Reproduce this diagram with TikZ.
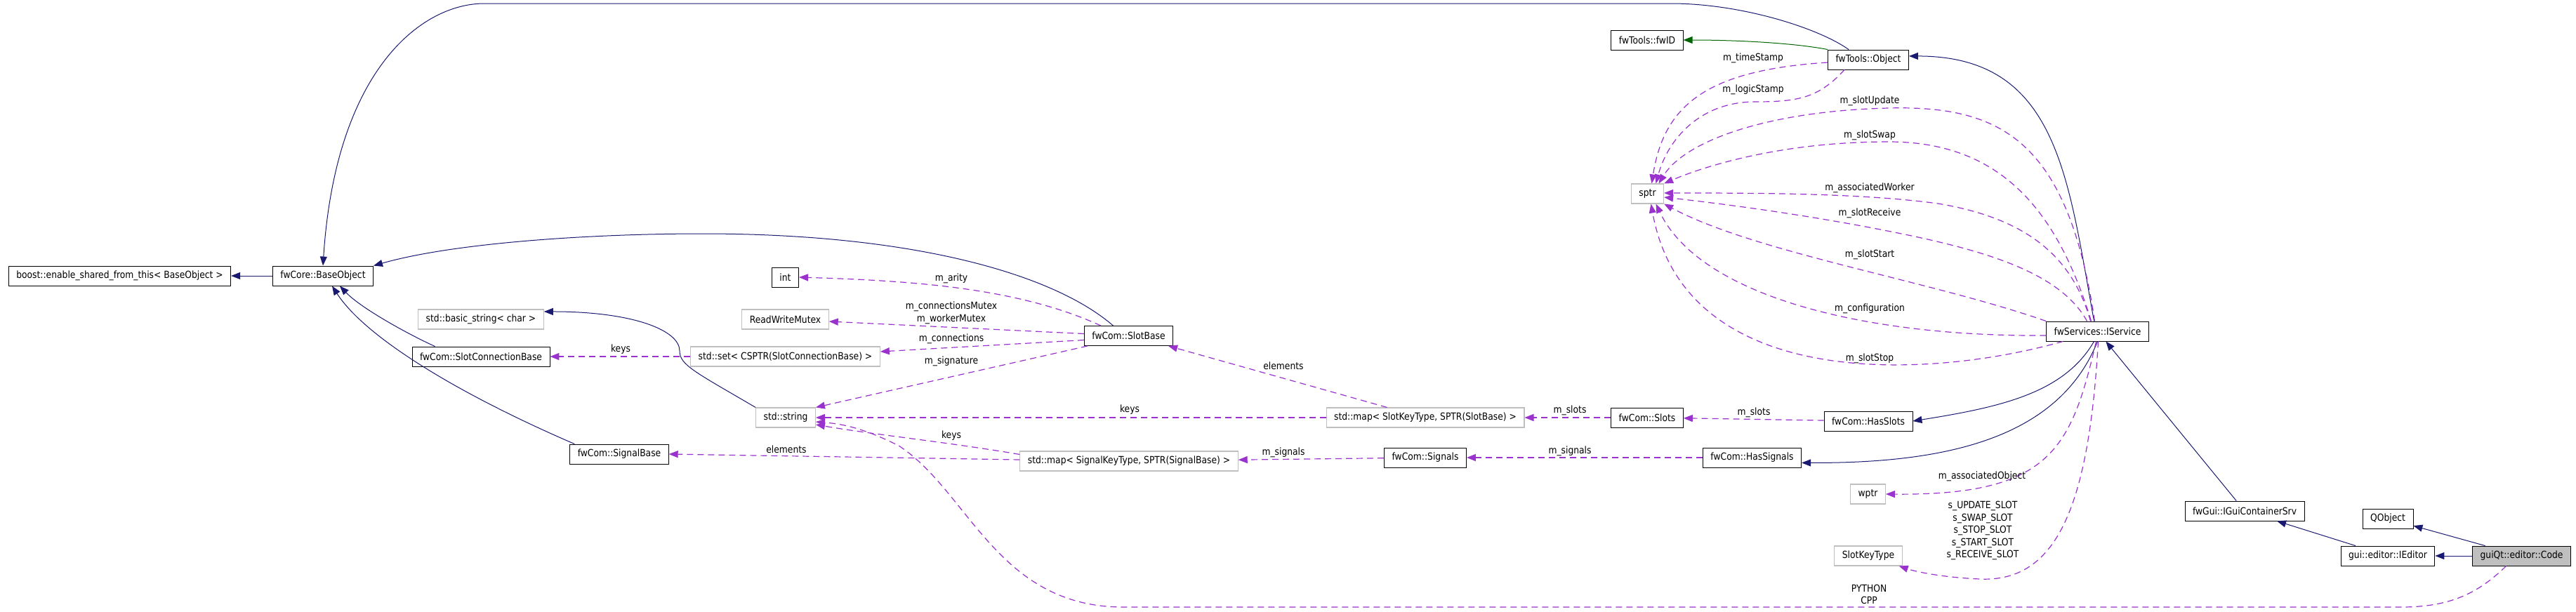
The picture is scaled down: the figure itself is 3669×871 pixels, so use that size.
\documentclass[tikz,border=0pt]{standalone}
\usepackage{fontspec}
\setmainfont{DejaVu Sans}[FakeStretch=0.88]
\usepackage{xcolor}
\definecolor{navyedge}{HTML}{191970}
\definecolor{useedge}{HTML}{9A32CD}
\definecolor{greenedge}{HTML}{006400}
\definecolor{grayline}{HTML}{BFBFBF}
\usetikzlibrary{arrows.meta}

\begin{document}
\begin{tikzpicture}[x=1pt, y=-1pt,
    font=\fontsize{14}{17.5}\selectfont,
    cls/.style={draw=black, line width=0.9pt, fill=white, minimum height=28pt, inner xsep=11pt, inner ysep=0pt},
    ext/.style={cls, draw=grayline, line width=1.1pt},
    inh/.style={draw=navyedge, line width=1pt, -{Triangle[length=13pt,width=10pt]}},
    grn/.style={inh, draw=greenedge},
    use/.style={draw=useedge, line width=1.2pt, dash pattern=on 9pt off 6pt, -{Triangle[length=13pt,width=10pt]}},
    lbl/.style={inner sep=0pt, align=center}
]
  \useasboundingbox (0,0) rectangle (3669,871);

  % Klassen links
  \node[cls] (boost) at (170.5,393) {boost::enable\_shared\_from\_this< BaseObject >};
  \node[cls] (BaseObject) at (460,393) {fwCore::BaseObject};
  \node[ext] (basicstr) at (685,455) {std::basic\_string< char >};
  \node[cls] (slotconn) at (685,508) {fwCom::SlotConnectionBase};
  \node[cls] (SignalBase) at (882,647) {fwCom::SignalBase};

  % Slots und Signale
  \node[cls] (int) at (1118.5,395) {int};
  \node[ext] (rwmutex) at (1118.5,455) {ReadWriteMutex};
  \node[ext] (stdset) at (1118.5,508) {std::set< CSPTR(SlotConnectionBase) >};
  \node[ext] (stdstr) at (1119,595) {std::string};
  \node[cls] (SlotBase) at (1607.5,478.5) {fwCom::SlotBase};
  \node[ext] (mapsig) at (1608,657) {std::map< SignalKeyType, SPTR(SignalBase) >};
  \node[ext] (mapslot) at (2030,595) {std::map< SlotKeyType, SPTR(SlotBase) >};
  \node[cls] (Signals) at (2030,652) {fwCom::Signals};
  \node[cls] (Slots) at (2346,595) {fwCom::Slots};
  \node[cls] (HasSlots) at (2661,600) {fwCom::HasSlots};
  \node[cls] (HasSignals) at (2495.5,652) {fwCom::HasSignals};

  % Objekt und Service
  \node[cls] (fwID) at (2346,57) {fwTools::fwID};
  \node[cls] (Object) at (2661,85) {fwTools::Object};
  \node[ext] (sptr) at (2346.5,276) {sptr};
  \node[cls] (IService) at (2987.5,472) {fwServices::IService};
  \node[ext] (wptr) at (2660.5,704) {wptr};
  \node[ext] (slotkey) at (2661,792) {SlotKeyType};

  % Editor rechts
  \node[cls] (guicont) at (3197,728) {fwGui::IGuiContainerSrv};
  \node[cls] (QObject) at (3401,739) {QObject};
  \node[cls] (IEditor) at (3401,792) {gui::editor::IEditor};
  \node[cls, fill=grayline] (Code) at (3591.5,792) {guiQt::editor::Code};

  % Vererbung
  \draw[inh] (BaseObject) -- (boost);
  \draw[inh] ([xshift=30pt]Object.north west) .. controls (2590,40) and (2480,5) .. (2380,5) -- (690,5) .. controls (600,5) and (478,100) .. (BaseObject.north);
  \draw[inh] ([xshift=-22pt]SlotBase.north) .. controls (1500,390) and (1300,333) .. (1000,333) .. controls (850,333) and (650,345) .. (BaseObject.north east);
  \draw[inh] ([xshift=33pt]slotconn.north west) .. controls (585,478) and (515,440) .. ([xshift=24pt]BaseObject.south);
  \draw[inh] ([xshift=7pt]SignalBase.north west) .. controls (650,560) and (520,480) .. ([xshift=13pt]BaseObject.south);
  \draw[inh] (stdstr.north west) .. controls (990,530) and (968,520) .. (968,500) .. controls (968,470) and (900,444) .. (basicstr.7);
  \draw[grn] (Object.north west) .. controls (2560,62) and (2480,57) .. (fwID.east);
  \draw[inh] ([xshift=-5pt]IService.north) .. controls (2945,250) and (2930,80) .. (Object.5);
  \draw[inh] ([xshift=-5pt]IService.south) .. controls (2940,560) and (2850,580) .. (HasSlots.east);
  \draw[inh] (IService.south) .. controls (2930,630) and (2760,660) .. (HasSignals.-6);
  \draw[inh] (guicont) -- (IService);
  \draw[inh] (IEditor) -- (guicont);
  \draw[inh] (Code) -- (IEditor);
  \draw[inh] (Code) -- (QObject);

  % Attribute
  \draw[use] ([xshift=24pt]SlotBase.north west) .. controls (1450,410) and (1300,400) .. (int.east);
  \draw[use] ([yshift=3pt]SlotBase.west) -- ([yshift=-3pt]rwmutex.east);
  \draw[use] ([yshift=-6pt]SlotBase.west) -- ([yshift=7pt]stdset.east);
  \draw[use] ([xshift=5pt]SlotBase.south west) -- (stdstr.north east);
  \draw[use] (stdset) -- (slotconn);
  \draw[use] ([xshift=87pt]mapslot.north west) -- ([xshift=-7pt]SlotBase.south east);
  \draw[use] (mapslot) -- (stdstr);
  \draw[use] ([yshift=-5pt]mapsig.north west) .. controls (1350,630) and (1250,620) .. ([yshift=-10pt]stdstr.east);
  \draw[use] ([yshift=2pt]mapsig.west) -- (SignalBase.east);
  \draw[use] (Slots) -- (mapslot);
  \draw[use] (HasSlots) -- (Slots);
  \draw[use] (Signals) -- (mapsig);
  \draw[use] (HasSignals) -- (Signals);
  \draw[use] ([yshift=-4pt]Object.west) .. controls (2430,100) and (2370,150) .. ([xshift=6pt]sptr.north);
  \draw[use] ([xshift=24pt]Object.south west) .. controls (2590,140) and (2560,145) .. (2500,145) .. controls (2420,145) and (2375,200) .. ([xshift=12pt]sptr.north);
  \draw[use] ([xshift=-4pt]IService.north) .. controls (2945,200) and (2850,150) .. (2690,154) .. controls (2520,158) and (2400,200) .. ([xshift=16pt]sptr.north);
  \draw[use] ([xshift=-9pt]IService.north) .. controls (2930,300) and (2850,202) .. (2690,202) .. controls (2530,202) and (2420,240) .. (sptr.north east);
  \draw[use] ([xshift=-10pt]IService.north) .. controls (2950,360) and (2880,310) .. (2760,290) .. controls (2650,275) and (2500,275) .. ([yshift=1pt]sptr.east);
  \draw[use] ([xshift=-15pt]IService.north) .. controls (2930,380) and (2800,350) .. (2657,323) .. controls (2550,303) and (2450,290) .. ([yshift=-5pt]sptr.east);
  \draw[use] (IService.north west) .. controls (2750,400) and (2500,360) .. (sptr.south east);
  \draw[use] ([yshift=-6pt]IService.west) .. controls (2650,480) and (2420,420) .. ([xshift=12pt]sptr.south);
  \draw[use] ([xshift=24pt]IService.south west) .. controls (2750,540) and (2400,560) .. ([xshift=5pt]sptr.south);
  \draw[use] ([xshift=-2pt]IService.south) .. controls (2950,640) and (2920,706) .. (wptr.east);
  \draw[use] ([xshift=1pt]IService.south) .. controls (2975,720) and (2930,830) .. (2820,825) .. controls (2770,823) and (2730,815) .. ([xshift=-5pt]slotkey.south east);
  \draw[use] ([xshift=-22pt]Code.south) .. controls (3530,845) and (3490,865) .. (3420,865) -- (1600,865) .. controls (1420,865) and (1380,700) .. (1280,635) .. controls (1230,610) and (1200,604) .. ([yshift=-6pt]stdstr.east);

  % Beschriftungen
  \node[lbl] (lArity) at (1355,397) {m\_arity};
  \node[lbl] (lMutex) at (1355,446) {m\_connectionsMutex\\m\_workerMutex};
  \node[lbl] (lConn) at (1355,483) {m\_connections};
  \node[lbl] (lSignature) at (1355,515) {m\_signature};
  \node[lbl] (lKeysSet) at (884,498) {keys};
  \node[lbl] (lElemSlot) at (1828,521) {elements};
  \node[lbl] (lKeysSlot) at (1609,584) {keys};
  \node[lbl] (lKeysSig) at (1355,621) {keys};
  \node[lbl] (lElemSig) at (1120,640) {elements};
  \node[lbl] (lSlotsA) at (2236,585) {m\_slots};
  \node[lbl] (lSlotsB) at (2498,588) {m\_slots};
  \node[lbl] (lSignalsA) at (1828,645) {m\_signals};
  \node[lbl] (lSignalsB) at (2236,643) {m\_signals};
  \node[lbl] (lTime) at (2497,83) {m\_timeStamp};
  \node[lbl] (lLogic) at (2497,128) {m\_logicStamp};
  \node[lbl] (lUpdate) at (2663,144) {m\_slotUpdate};
  \node[lbl] (lSwap) at (2663,193) {m\_slotSwap};
  \node[lbl] (lWorker) at (2663,268) {m\_associatedWorker};
  \node[lbl] (lReceive) at (2663,304) {m\_slotReceive};
  \node[lbl] (lStart) at (2663,363) {m\_slotStart};
  \node[lbl] (lConfig) at (2663,440) {m\_configuration};
  \node[lbl] (lStop) at (2663,511) {m\_slotStop};
  \node[lbl] (lObject) at (2823,679) {m\_associatedObject};
  \node[lbl] (lSlotIds) at (2824,756) {s\_UPDATE\_SLOT\\s\_SWAP\_SLOT\\s\_STOP\_SLOT\\s\_START\_SLOT\\s\_RECEIVE\_SLOT};
  \node[lbl] (lLang) at (2662,847) {PYTHON\\CPP};

\end{tikzpicture}
\end{document}
